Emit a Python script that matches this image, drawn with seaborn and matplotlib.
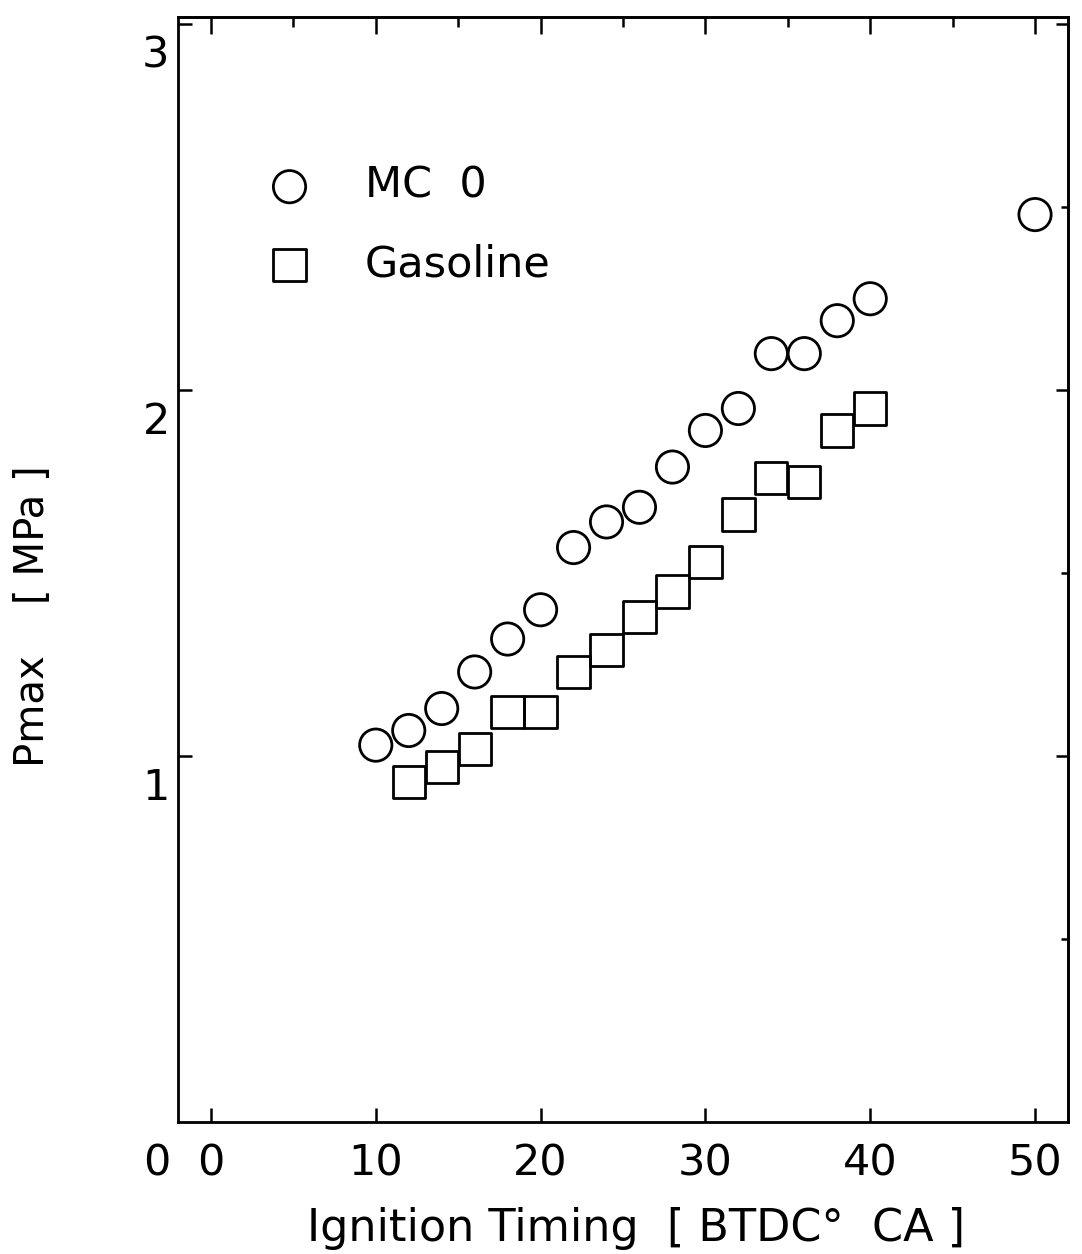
import matplotlib
matplotlib.use("Agg")
import matplotlib.pyplot as plt
import matplotlib.transforms as mtransforms
from matplotlib.ticker import FixedLocator, NullFormatter
import seaborn as sns
import pandas as pd

# Peak cylinder pressure versus ignition timing
timing_mc0 = [10, 12, 14, 16, 18, 20, 22, 24, 26, 28, 30, 32, 34, 36, 38, 40, 50]
pmax_mc0 = [1.03, 1.07, 1.13, 1.23, 1.32, 1.40, 1.57, 1.64, 1.68, 1.79, 1.89,
            1.95, 2.10, 2.10, 2.19, 2.25, 2.48]
timing_gas = [12, 14, 16, 18, 20, 22, 24, 26, 28, 30, 32, 34, 36, 38, 40]
pmax_gas = [0.93, 0.97, 1.02, 1.12, 1.12, 1.23, 1.29, 1.38, 1.45, 1.53, 1.66,
            1.76, 1.75, 1.89, 1.95]
series_labels = ["MC  0", "Gasoline"]
x_ticks = [0, 10, 20, 30, 40, 50]
x_ticks_top_minor = [5, 15, 25, 35, 45]
y_ticks = [1, 2, 3]
y_ticks_right_minor = [0.5, 1.5, 2.5]

df_mc0 = pd.DataFrame({"timing": timing_mc0, "pmax": pmax_mc0})
df_gas = pd.DataFrame({"timing": timing_gas, "pmax": pmax_gas})

sns.set_style("white")
plt.rcParams["font.family"] = ["DejaVu Sans"]
plt.rcParams["text.color"] = "black"
plt.rcParams["axes.labelcolor"] = "black"
plt.rcParams["xtick.color"] = "black"
plt.rcParams["ytick.color"] = "black"

W, H = 1082, 1254
fig = plt.figure(figsize=(W / 100, H / 100), dpi=100)
ax = fig.add_axes([178 / W, 1 - 1122 / H, 890 / W, 1105 / H])

marker_kw = dict(s=540, color="black", facecolor="none", edgecolor="black",
                 linewidth=2.0, ax=ax, legend=False)
sns.scatterplot(data=df_mc0, x="timing", y="pmax", marker="o",
                label=series_labels[0], **marker_kw)
sns.scatterplot(data=df_gas, x="timing", y="pmax", marker="s",
                label=series_labels[1], **marker_kw)

ax.set_xlim(-2, 52)
ax.set_ylim(0, 3.02)

for sp in ax.spines.values():
    sp.set_color("black")
    sp.set_linewidth(2.0)

# bottom / left ticks
ax.xaxis.set_major_locator(FixedLocator(x_ticks))
ax.yaxis.set_major_locator(FixedLocator(y_ticks))
ax.tick_params(axis="x", which="major", direction="in", length=10, width=1.8,
               labelsize=31, pad=15, bottom=True, top=False)
ax.tick_params(axis="y", which="major", direction="in", length=10, width=1.8,
               labelsize=31, pad=6, left=True, right=False)

# top axis: ticks every 5 (longer at tens)
top = ax.secondary_xaxis("top")
top.xaxis.set_major_locator(FixedLocator(x_ticks))
top.xaxis.set_minor_locator(FixedLocator(x_ticks_top_minor))
top.xaxis.set_major_formatter(NullFormatter())
top.tick_params(which="major", direction="in", length=12, width=1.8)
top.tick_params(which="minor", direction="in", length=7, width=1.8)
top.spines["top"].set_linewidth(2.0)

# right axis: ticks every 0.5
right = ax.secondary_yaxis("right")
right.yaxis.set_major_locator(FixedLocator(y_ticks))
right.yaxis.set_minor_locator(FixedLocator(y_ticks_right_minor))
right.yaxis.set_major_formatter(NullFormatter())
right.tick_params(which="major", direction="in", length=9, width=1.8)
right.tick_params(which="minor", direction="in", length=5, width=1.8)
right.spines["right"].set_linewidth(2.0)

# y tick labels sit a little below their ticks
shift = mtransforms.ScaledTranslation(0, -0.27, fig.dpi_scale_trans)
for lab in ax.get_yticklabels():
    lab.set_transform(lab.get_transform() + shift)
ax.text(-0.008, -0.038, "0", transform=ax.transAxes, ha="right", va="center",
        fontsize=31)

ax.set_xlabel("Ignition Timing  [ BTDC°  CA ]", fontsize=32)
ax.xaxis.set_label_coords(0.515, -0.077)
ax.set_ylabel("Pmax    [ MPa ]", fontsize=29)
ax.yaxis.set_label_coords(-0.14, 0.458)

ax.legend(loc="upper left", bbox_to_anchor=((268 - 178) / 890, (1122 - 165) / 1105),
          frameon=False, fontsize=31, handlelength=1.0, handletextpad=1.25,
          labelspacing=0.85, borderpad=0, borderaxespad=0, scatterpoints=1)

fig.savefig("out.png", dpi=100, facecolor="white")
